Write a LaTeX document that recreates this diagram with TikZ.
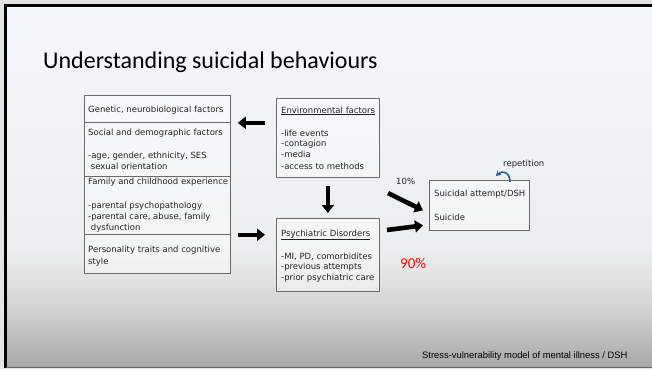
\documentclass[tikz,border=0pt]{standalone}
\usepackage{fontspec}
\setmainfont{DejaVu Sans}
\newfontfamily\titlefont{Carlito}
\newfontfamily\footfont{Liberation Sans}
\usetikzlibrary{arrows.meta}
\definecolor{bgtop}{HTML}{F5F8FB}
\definecolor{bgmid}{HTML}{ECEDEE}
\definecolor{bglow}{HTML}{D7D7D7}
\definecolor{bgbot}{HTML}{A8A8A8}
\definecolor{bgout}{HTML}{E4E4E4}
\definecolor{boxline}{HTML}{6A6A6A}
\definecolor{txt}{HTML}{222222}
\definecolor{repblue}{HTML}{2F5C9A}
\pgfdeclareverticalshading{slidebg}{100bp}{color(0bp)=(bgbot); color(25bp)=(bgbot); color(34bp)=(bglow); color(41bp)=(bgmid); color(75bp)=(bgtop); color(100bp)=(bgtop)}
\begin{document}
\begin{tikzpicture}[x=1pt,y=-1pt,
  box/.style={draw=boxline, line width=0.8pt, fill=white, fill opacity=0.45, inner sep=0pt, anchor=north west},
  t/.style={anchor=base west, inner sep=0pt, text=txt, font=\fontsize{8.5}{10}\selectfont},
  bigarrow/.style={line width=4.6pt, -{Triangle[length=8pt,width=12pt]}, black},
]
\useasboundingbox (0,0) rectangle (652,369);
\fill[bgout] (0,0) rectangle (652,369);
\shade[shading=slidebg] (5,5) rectangle (652,367);
\draw[black, line width=3pt] (652,5.5) -- (5.5,5.5) -- (5.5,368);
\draw[black!60, line width=1pt] (5.5,367.5) -- (652,367.5);

% title
\node[anchor=base west, inner sep=0pt, font=\titlefont\fontsize{24}{28}\selectfont, text=black] (title) at (43,68) {Understanding suicidal behaviours};

% left stack
\node[box, minimum width=146pt, minimum height=27pt] (g) at (84,95) {};
\node[box, minimum width=146pt, minimum height=54pt] (s) at (84,122) {};
\node[box, minimum width=146pt, minimum height=58pt] (f) at (84,176) {};
\node[box, minimum width=146pt, minimum height=39pt] (p) at (84,234) {};

\node[t] (g1) at (88,112.5) {Genetic, neurobiological factors};
\node[t] (s1) at (88,135.5) {Social and demographic factors};
\node[t] (s2) at (88,158) {-age, gender, ethnicity, SES};
\node[t] (s3) at (88,169) {\ sexual orientation};
\node[t] (f1) at (88,184) {Family and childhood experience};
\node[t] (f2) at (88,208) {-parental psychopathology};
\node[t] (f3) at (88,219) {-parental care, abuse, family};
\node[t] (f4) at (88,230) {\ dysfunction};
\node[t] (p1) at (88,252) {Personality traits and cognitive};
\node[t] (p2) at (88,264) {style};

% environmental box
\node[box, minimum width=103pt, minimum height=79pt] (env) at (276,98) {};
\node[t] (e1) at (281,113) {\underline{Environmental factors}};
\node[t] (e2) at (281,136) {-life events};
\node[t] (e3) at (281,146.5) {-contagion};
\node[t] (e4) at (281,157) {-media};
\node[t] (e5) at (281,169) {-access to methods};

% psychiatric box
\node[box, minimum width=103pt, minimum height=73pt] (psy) at (276,218) {};
\node[t] (d1) at (281,236) {\underline{Psychiatric Disorders}};
\node[t] (d2) at (281,259) {-MI, PD, comorbidites};
\node[t] (d3) at (281,269) {-previous attempts};
\node[t] (d4) at (281,280) {-prior psychiatric care};

% suicidal box
\node[box, minimum width=100pt, minimum height=50pt] (sui) at (429,180) {};
\node[t] (u1) at (434,196) {Suicidal attempt/DSH};
\node[t] (u2) at (434,220) {Suicide};

% labels
\node[t] (ten) at (396,184) {10\%};
\node[anchor=base west, inner sep=0pt, font=\titlefont\fontsize{15}{18}\selectfont, text=red] (ninety) at (400,268) {90\%};
\node[t] (rep) at (503,166) {repetition};

% arrows
\draw[bigarrow, shorten <=11pt, shorten >=7pt] (env.west |- g.south) -- (g.south east);
\draw[bigarrow, shorten <=7pt, shorten >=11pt] (f.south east) -- (psy.west |- f.south);
\draw[bigarrow, shorten <=8pt, shorten >=5pt] (env.south) -- (psy.north);
\coordinate (a1) at (388,193);
\coordinate (a2) at (387,230);
\draw[bigarrow] (a1) -- ([xshift=-6pt,yshift=-5pt]sui.west);
\draw[bigarrow] (a2) -- ([xshift=-6pt,yshift=-20pt]sui.west);
\coordinate (r1) at (510,182);
\draw[repblue, line width=1.6pt, -{Stealth[length=5pt,width=6pt]}] (r1) .. controls (510,172) and (502,170) .. (496,176);
\node[anchor=base west, inner sep=0pt, font=\footfont\fontsize{9.4}{11}\selectfont, text=black] (foot) at (422,358) {Stress-vulnerability model of mental illness / DSH};
\end{tikzpicture}
\end{document}
